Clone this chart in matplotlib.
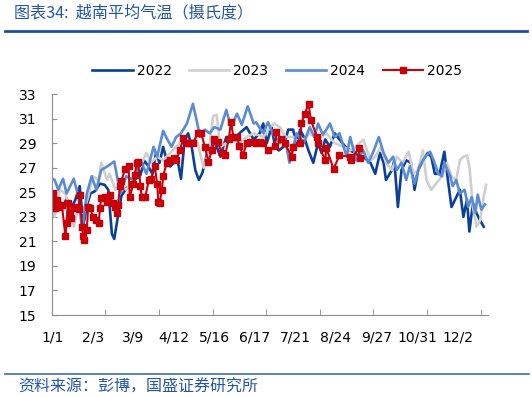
import numpy as np
import matplotlib
matplotlib.use("Agg")
from matplotlib import pyplot as plt
from matplotlib.lines import Line2D

# 日序号（1/1 = 0）与气温读数
days_2022 = [0, 3, 6, 9, 12, 15, 19, 23, 26, 29, 32, 36, 40, 44, 47, 50, 52, 55, 58, 62,
             66, 70, 74, 77, 80, 84, 87, 90, 93, 96, 99, 102, 105, 108, 111, 114, 117, 120, 123, 126,
             130, 135, 138, 141, 146, 152, 157, 163, 169, 174, 177, 180, 184, 187, 190, 194, 198, 202, 205, 208,
             212, 215, 219, 223, 226, 229, 233, 237, 241, 246, 250, 254, 258, 262, 267, 271, 275, 278, 280, 285,
             287, 290, 293, 297, 301, 304, 307, 311, 315, 318, 321, 325, 329, 332, 335, 338, 342, 345, 348, 350,
             353, 356, 359, 362]
temp_2022 = [24.0, 23.4, 24.3, 23.8, 24.5, 23.6, 24.3, 25.5, 22.3, 23.9, 24.9, 25.1, 25.7, 25.6, 25.2, 21.6, 21.2, 23.0, 24.7, 25.3,
             25.6, 26.1, 26.4, 27.6, 27.2, 26.5, 28.2, 27.4, 28.7, 27.6, 27.1, 27.4, 27.7, 26.1, 29.2, 29.8, 28.7, 26.8, 26.0, 26.6,
             28.2, 29.3, 28.7, 27.9, 29.5, 29.3, 29.8, 30.3, 29.3, 29.8, 30.6, 29.0, 30.3, 28.7, 28.4, 28.7, 30.1, 30.1, 29.0, 30.1,
             29.3, 28.4, 27.4, 29.0, 28.2, 29.3, 28.7, 29.8, 29.3, 28.7, 28.4, 28.2, 27.9, 27.8, 27.4, 26.5, 28.2, 27.4, 26.0, 26.8,
             27.6, 23.8, 26.8, 27.6, 27.4, 25.2, 26.8, 27.6, 28.2, 27.9, 26.5, 26.5, 28.3, 26.0, 23.8, 24.4, 25.2, 23.0, 24.4, 21.8,
             24.1, 23.3, 22.7, 22.2]

days_2023 = [0, 2, 6, 11, 15, 18, 22, 26, 30, 34, 39, 41, 46, 48, 53, 57, 62, 68, 74, 79,
             83, 88, 93, 99, 104, 110, 115, 121, 127, 131, 135, 138, 141, 146, 152, 157, 163, 169, 177, 183,
             186, 191, 196, 202, 208, 216, 223, 230, 237, 244, 250, 258, 261, 267, 271, 276, 280, 285, 289, 294,
             299, 303, 307, 311, 314, 318, 322, 327, 331, 335, 339, 342, 345, 348, 350, 353, 356, 359, 362, 364]
temp_2023 = [23.3, 23.0, 25.2, 24.9, 23.3, 22.2, 23.8, 23.3, 24.6, 26.3, 26.0, 27.4, 26.0, 26.5, 25.2, 25.5, 25.2, 26.0, 27.1, 28.2,
             27.4, 27.9, 27.6, 28.2, 28.7, 29.3, 29.0, 29.4, 27.0, 28.2, 31.2, 31.3, 28.7, 29.0, 29.3, 29.0, 29.5, 29.8, 29.5, 30.3,
             30.6, 30.3, 29.5, 29.5, 29.0, 29.8, 29.3, 29.8, 29.0, 28.7, 28.4, 29.0, 29.3, 27.6, 27.9, 28.7, 27.4, 26.8, 27.9, 27.4,
             28.3, 26.5, 26.8, 28.4, 26.0, 25.2, 25.7, 26.3, 27.4, 26.3, 26.0, 27.6, 27.9, 28.0, 27.1, 23.8, 22.2, 22.7, 24.6, 25.6]

days_2024 = [0, 2, 5, 9, 12, 18, 22, 25, 29, 33, 37, 41, 46, 52, 57, 62, 68, 74, 79, 85,
             88, 93, 96, 100, 104, 108, 113, 118, 121, 124, 128, 132, 136, 141, 146, 150, 155, 159, 164, 169,
             171, 177, 181, 185, 191, 195, 199, 205, 211, 216, 220, 223, 227, 230, 233, 237, 241, 247, 250, 255,
             261, 265, 269, 274, 278, 282, 286, 289, 293, 297, 300, 304, 308, 313, 317, 320, 324, 327, 329, 334,
             336, 339, 342, 346, 349, 352, 355, 357, 360, 363]
temp_2024 = [26.1, 26.0, 25.2, 26.1, 24.9, 26.1, 24.6, 21.9, 24.9, 26.3, 25.2, 26.8, 27.1, 27.5, 24.9, 26.3, 26.0, 27.6, 26.5, 28.7,
             27.9, 30.0, 29.4, 28.7, 29.5, 29.8, 30.6, 32.2, 30.9, 29.5, 30.1, 29.8, 30.3, 30.1, 31.7, 30.3, 31.4, 30.5, 32.0, 30.6,
             30.7, 29.8, 30.7, 29.8, 29.0, 29.5, 27.4, 29.8, 29.0, 30.3, 29.5, 30.6, 29.7, 30.1, 30.6, 29.5, 29.8, 27.9, 29.5, 27.6,
             28.4, 27.4, 28.2, 29.5, 28.2, 27.4, 27.9, 26.8, 27.4, 26.0, 27.1, 25.7, 27.1, 27.9, 28.3, 27.6, 26.5, 26.3, 27.4, 26.3,
             25.5, 26.0, 24.9, 25.2, 23.8, 24.6, 23.3, 24.8, 23.6, 24.0]

days_2025 = [0, 1, 2, 4, 6, 8, 11, 12, 13, 15, 16, 18, 19, 22, 23, 25, 26, 27, 29, 30,
             32, 34, 37, 39, 40, 41, 44, 46, 48, 51, 53, 54, 55, 57, 58, 61, 64, 65, 68, 69,
             71, 72, 74, 75, 78, 81, 83, 86, 88, 89, 90, 92, 93, 96, 99, 102, 104, 107, 110, 113,
             115, 118, 122, 125, 128, 131, 134, 136, 139, 142, 145, 148, 150, 152, 155, 157, 160, 163, 166, 169,
             171, 174, 177, 181, 187, 188, 192, 195, 201, 202, 208, 209, 212, 215, 217, 222, 223, 229, 230, 236,
             241, 250, 251, 257, 258]
temp_2025 = [23.7, 24.9, 23.7, 24.4, 23.8, 24.0, 21.4, 22.5, 24.1, 23.3, 22.9, 23.7, 23.8, 23.6, 24.8, 22.2, 21.4, 21.1, 21.9, 23.8,
             23.7, 23.0, 22.7, 22.5, 23.7, 24.5, 24.6, 24.2, 24.8, 24.1, 23.8, 23.3, 24.0, 25.5, 25.9, 26.9, 27.1, 24.6, 25.7, 26.4,
             27.4, 27.5, 25.5, 24.6, 24.6, 26.0, 26.1, 27.1, 25.7, 24.2, 24.1, 25.2, 26.3, 27.4, 27.6, 27.8, 27.6, 28.4, 29.4, 29.0,
             29.0, 29.0, 29.8, 29.8, 28.7, 27.5, 28.4, 29.3, 29.1, 28.2, 28.0, 29.3, 30.7, 29.5, 29.5, 28.8, 28.0, 29.0, 29.1, 29.1,
             29.0, 29.1, 29.0, 28.4, 28.8, 29.9, 29.3, 29.0, 27.9, 28.7, 29.0, 30.6, 31.4, 32.2, 30.9, 29.5, 29.0, 27.6, 28.6, 26.9,
             28.0, 27.9, 27.6, 28.6, 27.8]

x_labels = ['1/1', '2/3', '3/9', '4/12', '5/16', '6/17', '7/21', '8/24', '9/27', '10/31', '12/2']
n_days = 366

plt.rcParams['font.family'] = ['DejaVu Sans', 'Noto Sans CJK SC']

fig = plt.figure(figsize=(5.32, 3.97), dpi=100)
ax = fig.add_axes([0.0972, 0.2065, 0.8198, 0.5567])

ax.plot(days_2022, temp_2022, color='#0B3F98', lw=1.9, label='2022')
ax.plot(days_2023, temp_2023, color='#CFCFCF', lw=1.9, label='2023')
ax.plot(days_2024, temp_2024, color='#5A8BD3', lw=1.9, label='2024')
ax.plot(days_2025, temp_2025, color='#C8000A', lw=1.5, marker='s', markersize=3.8, label='2025')

ax.set_xlim(-0.5, n_days - 0.5)
ax.set_ylim(15, 33)
ax.set_yticks(np.arange(15, 34, 2))

# 标签每 34 天一个，刻度线每 45 天一条
ax.set_xticks(np.arange(len(x_labels)) * 34)
ax.set_xticklabels(x_labels)
ax.set_xticks(np.arange(0, 9) * 45 - 0.5, minor=True)
ax.tick_params(axis='x', which='major', length=0, pad=11, labelsize=10)
ax.tick_params(axis='x', which='minor', length=4, direction='in', color='#8C8C8C')
ax.tick_params(axis='y', length=3.5, direction='in', pad=11, labelsize=10, color='#8C8C8C')

for s in ['top', 'right']:
    ax.spines[s].set_visible(False)
for s in ['left', 'bottom']:
    ax.spines[s].set_color('#8C8C8C')

fig.legend(loc='center', bbox_to_anchor=(0.521, 0.821), ncol=4, frameon=False,
           fontsize=10, handlelength=2.9, handletextpad=0.3, columnspacing=1.25)

fig.text(0.026, 0.967, '图表34:  越南平均气温（摄氏度）', color='#2556A6', fontsize=11.6,
         family=['Noto Sans CJK SC', 'DejaVu Sans'], va='center', ha='left')
fig.add_artist(Line2D([0.01, 0.99], [0.922, 0.922], transform=fig.transFigure,
                      color='#1B4F9C', lw=2))
fig.add_artist(Line2D([0.01, 0.995], [0.058, 0.058], transform=fig.transFigure,
                      color='#3C6DB5', lw=1.2))
fig.text(0.034, 0.025, '资料来源：彭博，国盛证券研究所', color='#2556A6', fontsize=11.5,
         family=['Noto Sans CJK SC', 'DejaVu Sans'], va='center', ha='left')

fig.savefig('out.png', dpi=100)
